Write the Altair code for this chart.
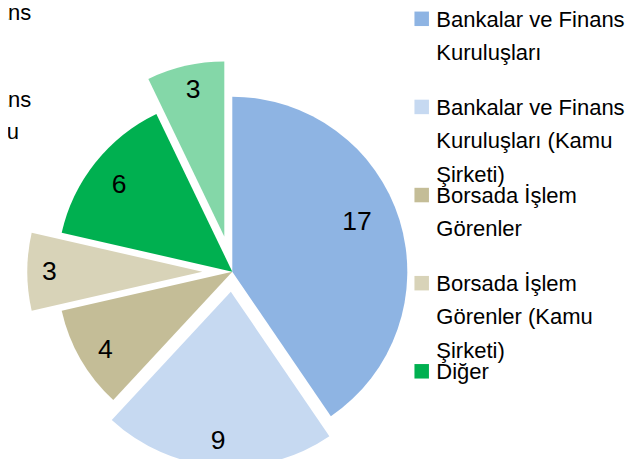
import altair as alt
import pandas as pd

# ---- data ----
categories = [
    "Bankalar ve Finans Kuruluşları",
    "Bankalar ve Finans Kuruluşları (Kamu Şirketi)",
    "Borsada İşlem Görenler",
    "Borsada İşlem Görenler (Kamu Şirketi)",
    "Diğer",
    "Diğer (Kamu Şirketi)",
]
values = [17, 9, 4, 3, 6, 3]
legend_labels = [
    "Bankalar ve Finans\nKuruluşları",
    "Bankalar ve Finans\nKuruluşları (Kamu\nŞirketi)",
    "Borsada İşlem\nGörenler",
    "Borsada İşlem\nGörenler (Kamu\nŞirketi)",
    "Diğer",
]
# clipped legend of a neighbouring chart, visible at the left edge
left_labels = [
    "Bankalar ve Finans\nKuruluşları",
    "Bankalar ve Finans\nKuruluşları (Kamu\nŞirketi)",
]

# ---- style ----
colors = ["#8EB4E3", "#C6D9F1", "#C4BD97", "#D8D3B8", "#00B050", "#84D7A8"]
explode = [0, 20, 0, 30, 0, 36]            # px pulled out from centre
label_r = [135, 147, 148, 153, 144.5, 152]  # px label distance from slice centre
label_dtheta = [-5.4, 0.7, -0.9, 0.9, -0.2, 1.0]  # deg shift of label from mid-angle
CX, CY, R = 224.3, 263.7, 175
FONT = "Liberation Sans"

pie_df = pd.DataFrame({
    "idx": list(range(len(categories))),
    "cat": categories,
    "value": values,
    "explode": explode,
    "lr": label_r,
    "ldt": label_dtheta,
})
legend_df = pd.DataFrame({"cat": categories[:5], "label": legend_labels})
left_df = pd.DataFrame({"cat": ["a", "b"], "label": left_labels})

color_scale = alt.Scale(domain=categories, range=colors)

base = (
    alt.Chart(pie_df)
    .transform_window(cum="sum(value)", sort=[alt.SortField("idx")], frame=[None, 0])
    .transform_joinaggregate(total="sum(value)")
    .transform_calculate(
        t0="2*PI*(datum.cum - datum.value)/datum.total",
        t1="2*PI*datum.cum/datum.total",
        mid="2*PI*(datum.cum - datum.value/2)/datum.total",
    )
    .transform_calculate(
        cx=f"{CX} + datum.explode*sin(datum.mid)",
        cy=f"{CY} - datum.explode*cos(datum.mid)",
        la="datum.mid + datum.ldt*PI/180",
    )
    .transform_calculate(
        lx="datum.cx + datum.lr*sin(datum.la)",
        ly="datum.cy - datum.lr*cos(datum.la)",
    )
)

arcs = base.mark_arc(radius=R).encode(
    theta=alt.Theta("t0:Q", scale=None),
    theta2="t1:Q",
    x=alt.X("cx:Q", scale=None, axis=None),
    y=alt.Y("cy:Q", scale=None, axis=None),
    color=alt.Color("cat:N", scale=color_scale, legend=None),
)

slice_labels = base.mark_text(font=FONT, fontSize=26.5, color="#000000", dy=2.5).encode(
    x=alt.X("lx:Q", scale=None, axis=None),
    y=alt.Y("ly:Q", scale=None, axis=None),
    text=alt.Text("value:Q"),
)

leg_y = alt.Y(
    "cat:N",
    scale=alt.Scale(type="point", domain=categories[:5], range=[10.8, 363.3], padding=0),
    axis=None,
)

leg_sq = alt.Chart(legend_df).mark_square(size=210, opacity=1).encode(
    x=alt.value(413.7),
    y=leg_y,
    color=alt.Color("cat:N", scale=color_scale, legend=None),
)

leg_txt = (
    alt.Chart(legend_df)
    .transform_calculate(lines="split(datum.label, '\\n')")
    .mark_text(align="left", baseline="alphabetic", dy=8, lineHeight=33.3,
               font=FONT, fontSize=22, color="#000000")
    .encode(x=alt.value(428.3), y=leg_y, text="lines:N")
)

left_txt = (
    alt.Chart(left_df)
    .transform_calculate(lines="split(datum.label, '\\n')")
    .mark_text(align="left", baseline="alphabetic", lineHeight=32.5,
               font=FONT, fontSize=22, color="#000000")
    .encode(
        x=alt.value(-165),
        y=alt.Y("cat:N", scale=alt.Scale(type="point", domain=["a", "b"], range=[12, 98.7], padding=0), axis=None),
        text="lines:N",
    )
)

chart = (
    alt.layer(arcs, slice_labels, leg_sq, leg_txt, left_txt)
    .resolve_scale(x="independent", y="independent")
    .properties(width=620, height=451, padding=0, autosize=alt.AutoSizeParams(type="none"))
    .configure_view(stroke=None)
)

chart.save("out.html", embed_options={"renderer": "svg", "actions": False})
